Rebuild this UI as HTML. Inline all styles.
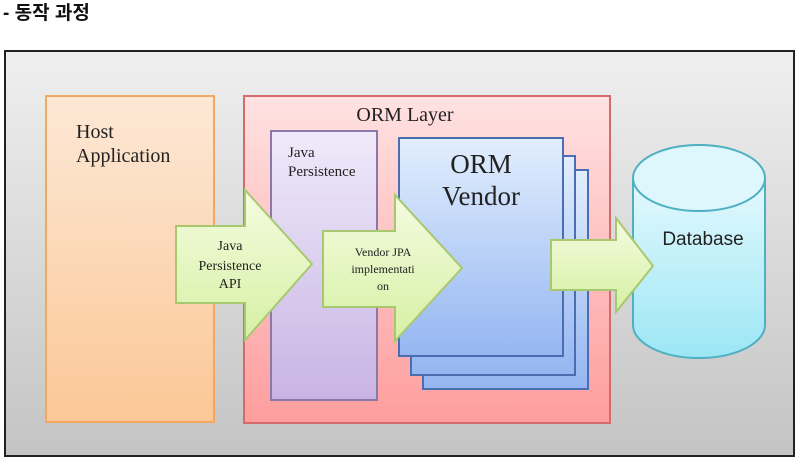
<!DOCTYPE html>
<html><head><meta charset="utf-8"><style>
html,body{margin:0;padding:0;background:#fff;width:807px;height:467px;overflow:hidden}
svg{display:block}
</style></head><body>
<svg width="807" height="467" viewBox="0 0 807 467" xmlns="http://www.w3.org/2000/svg">
<defs>
<linearGradient id="bg" x1="0" y1="0" x2="0" y2="1"><stop offset="0" stop-color="#efefef"/><stop offset="1" stop-color="#c4c4c4"/></linearGradient>
<linearGradient id="or" x1="0" y1="0" x2="0" y2="1"><stop offset="0" stop-color="#fde8d6"/><stop offset="1" stop-color="#fbc796"/></linearGradient>
<linearGradient id="pk" x1="0" y1="0" x2="0" y2="1"><stop offset="0" stop-color="#ffe2e2"/><stop offset="1" stop-color="#fe9d9d"/></linearGradient>
<linearGradient id="pu" x1="0" y1="0" x2="0" y2="1"><stop offset="0" stop-color="#efeafa"/><stop offset="1" stop-color="#c8b4e4"/></linearGradient>
<linearGradient id="bl" x1="0" y1="0" x2="0" y2="1"><stop offset="0" stop-color="#e2eefd"/><stop offset="1" stop-color="#95b6f2"/></linearGradient>
<linearGradient id="cy" x1="0" y1="0" x2="0" y2="1"><stop offset="0" stop-color="#e4f9fd"/><stop offset="1" stop-color="#9ce6f5"/></linearGradient>
<linearGradient id="gr" x1="0" y1="0" x2="0" y2="1"><stop offset="0" stop-color="#f4fce0"/><stop offset="1" stop-color="#d6f0a4"/></linearGradient>
</defs>
<text x="3" y="19" font-family="'Liberation Sans','Noto Sans CJK KR',sans-serif" font-size="19" font-weight="bold" fill="#111">- 동작 과정</text>
<rect x="5" y="51" width="789" height="405" fill="url(#bg)" stroke="#222" stroke-width="2"/>
<rect x="46" y="96" width="168" height="326" fill="url(#or)" stroke="#f2a863" stroke-width="2"/>
<text x="76" y="138" font-family="'Liberation Serif',serif" font-size="20" fill="#222">Host</text>
<text x="76" y="162" font-family="'Liberation Serif',serif" font-size="20" fill="#222">Application</text>
<rect x="244" y="96" width="366" height="327" fill="url(#pk)" stroke="#d46a6a" stroke-width="2"/>
<text x="405" y="121" text-anchor="middle" font-family="'Liberation Serif',serif" font-size="20" fill="#222">ORM Layer</text>
<rect x="271" y="131" width="106" height="269" fill="url(#pu)" stroke="#8a78a8" stroke-width="2"/>
<text x="288" y="157" font-family="'Liberation Serif',serif" font-size="15" fill="#222">Java</text>
<text x="288" y="176" font-family="'Liberation Serif',serif" font-size="15" fill="#222">Persistence</text>
<rect x="423" y="170" width="165" height="219" fill="url(#bl)" stroke="#4a6eb0" stroke-width="2"/>
<rect x="411" y="156" width="164" height="219" fill="url(#bl)" stroke="#4a6eb0" stroke-width="2"/>
<rect x="399" y="138" width="164" height="218" fill="url(#bl)" stroke="#4a6eb0" stroke-width="2"/>
<text x="481" y="173" text-anchor="middle" font-family="'Liberation Serif',serif" font-size="27" fill="#222">ORM</text>
<text x="481" y="205" text-anchor="middle" font-family="'Liberation Serif',serif" font-size="27" fill="#222">Vendor</text>
<path d="M633 178 L633 325 A66 33 0 0 0 765 325 L765 178" fill="url(#cy)" stroke="#4fb0c2" stroke-width="2"/>
<ellipse cx="699" cy="178" rx="66" ry="33" fill="#def7fc" stroke="#4fb0c2" stroke-width="2"/>
<text x="703" y="245" text-anchor="middle" font-family="'Liberation Sans',sans-serif" font-size="19" fill="#222">Database</text>
<path d="M176 226 L245 226 L245 190 L312 264 L245 340 L245 303 L176 303 Z" fill="url(#gr)" stroke="#a8c870" stroke-width="2"/>
<text x="230" y="250" text-anchor="middle" font-family="'Liberation Serif',serif" font-size="14" fill="#222">Java</text>
<text x="230" y="270" text-anchor="middle" font-family="'Liberation Serif',serif" font-size="14" fill="#222">Persistence</text>
<text x="230" y="288" text-anchor="middle" font-family="'Liberation Serif',serif" font-size="14" fill="#222">API</text>
<path d="M323 231 L395 231 L395 195 L462 268 L395 341 L395 307 L323 307 Z" fill="url(#gr)" stroke="#a8c870" stroke-width="2"/>
<text x="383" y="256" text-anchor="middle" font-family="'Liberation Serif',serif" font-size="12" fill="#222">Vendor JPA</text>
<text x="383" y="273" text-anchor="middle" font-family="'Liberation Serif',serif" font-size="12" fill="#222">implementati</text>
<text x="383" y="290" text-anchor="middle" font-family="'Liberation Serif',serif" font-size="12" fill="#222">on</text>
<path d="M551 240 L616 240 L616 218 L653 266 L616 312 L616 290 L551 290 Z" fill="url(#gr)" stroke="#a8c870" stroke-width="2"/>
</svg>
</body></html>
